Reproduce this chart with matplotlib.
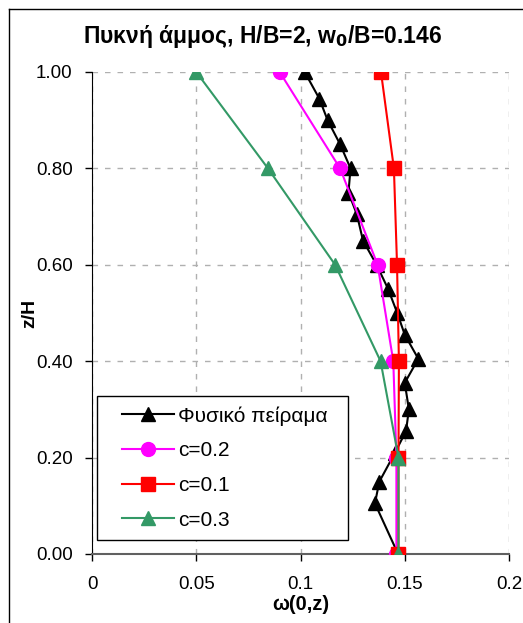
import matplotlib
matplotlib.use('Agg')
from matplotlib import pyplot as plt
from matplotlib.lines import Line2D
from matplotlib.legend_handler import HandlerLine2D

plt.rcParams['font.family'] = ['Liberation Sans', 'DejaVu Sans']

# Φυσικό πείραμα (measured)
exp_z = [1.00, 0.945, 0.90, 0.85, 0.80, 0.75, 0.705, 0.65, 0.60, 0.55, 0.50, 0.455, 0.405, 0.355, 0.30, 0.255, 0.21, 0.15, 0.105, 0.00]
exp_w = [0.102, 0.109, 0.113, 0.119, 0.124, 0.123, 0.127, 0.130, 0.1365, 0.142, 0.1464, 0.150, 0.1565, 0.150, 0.152, 0.1506, 0.1453, 0.1378, 0.1357, 0.1468]

# model curves
model_z = [1.00, 0.80, 0.60, 0.40, 0.20, 0.00]
c02_w = [0.090, 0.119, 0.137, 0.1445, 0.146, 0.146]
c01_w = [0.1386, 0.1448, 0.1463, 0.1472, 0.147, 0.147]
c03_w = [0.050, 0.0844, 0.1166, 0.1384, 0.147, 0.147]

x_ticks = [0, 0.05, 0.1, 0.15, 0.2]
x_labels = ['0', '0.05', '0.1', '0.15', '0.2']
y_ticks = [0.0, 0.2, 0.4, 0.6, 0.8, 1.0]

fig = plt.figure(figsize=(5.23, 6.23), dpi=100)
ax = fig.add_axes([92/523, 1-554/623, 417/523, 482/623])

ax.plot(exp_w, exp_z, color='black', lw=1.5, marker='^', ms=10, label='Φυσικό πείραμα', zorder=3)
ax.plot(c02_w, model_z, color='#FF00FF', lw=1.5, marker='o', ms=10, label='c=0.2', zorder=4)
ax.plot(c01_w, model_z, color='#FF0000', lw=1.5, marker='s', ms=9.5, label='c=0.1', zorder=5)
ax.plot(c03_w, model_z, color='#339966', lw=1.5, marker='^', ms=10, label='c=0.3', zorder=6)

ax.set_xlim(0, 0.2)
ax.set_ylim(0, 1.0)
ax.set_xticks(x_ticks)
ax.set_xticklabels(x_labels)
ax.set_yticks(y_ticks)
ax.set_yticklabels(['%.2f' % v for v in y_ticks])
ax.tick_params(labelsize=13.5, length=5, width=1, direction='out')
ax.tick_params(axis='y', pad=9)
ax.tick_params(axis='x', pad=11)

ax.grid(True, color='#b0b0b0', ls=(0, (4, 5)), lw=1)
ax.spines['top'].set_visible(False)
ax.spines['right'].set_visible(False)
ax.spines['left'].set_color('black')
ax.spines['bottom'].set_color('#606060')
ax.spines['bottom'].set_linewidth(1.5)

ax.set_xlabel('ω(0,z)', fontsize=14.5, fontweight='bold', labelpad=1)
ax.set_ylabel('z/H', fontsize=14, fontweight='bold')
ax.yaxis.set_label_coords((38 - 92) / 417, 0.5)

fig.text(262/523, 1-36/623, 'Πυκνή άμμος, H/B=2, w$_\\mathbf{0}$/B=0.146', fontsize=16.5,
         fontweight='bold', ha='center', va='center')

leg = ax.legend(loc='lower left', bbox_to_anchor=(5/417, 14/482, 251/417, 145/482), mode='expand',
                fontsize=15, frameon=True, fancybox=False, edgecolor='black', framealpha=1,
                handlelength=3.2, labelspacing=0.75, borderaxespad=0, borderpad=0.5,
                handletextpad=0.2, handler_map={Line2D: HandlerLine2D(xpad=0.72)})
leg.get_frame().set_linewidth(1)

# outer chart frame (left and top edges visible)
fig.add_artist(Line2D([8.5/523, 8.5/523], [0, 1-9/623], transform=fig.transFigure, color='black', lw=1))
fig.add_artist(Line2D([8.5/523, 1], [1-9/623, 1-9/623], transform=fig.transFigure, color='black', lw=1))

fig.savefig('out.png', dpi=100)
